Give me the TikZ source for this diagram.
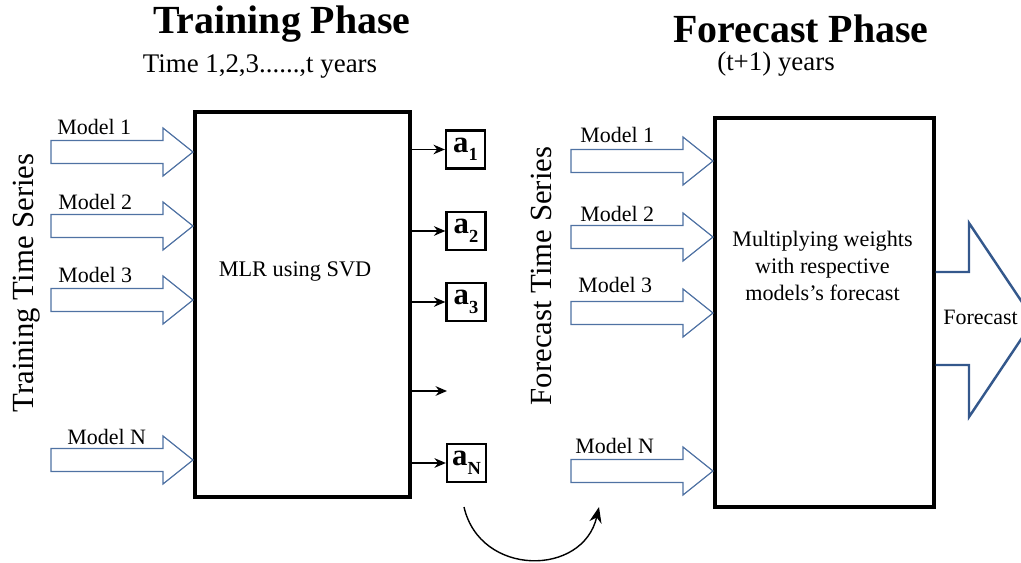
\documentclass[tikz,border=0pt]{standalone}
\usepackage{fontspec}
\setmainfont{Liberation Serif}
\usetikzlibrary{arrows.meta}

\definecolor{seriesblue}{RGB}{79,114,163}
\definecolor{outblue}{RGB}{52,88,140}

\newcommand{\fsz}[1]{\fontsize{#1}{#1}\selectfont}
% weight label a_i inside its small box
\newcommand{\wlabel}[1]{\textbf{a}\raisebox{-0.6ex}{\fsz{10.5}\textbf{#1}}}

\tikzset{
  bigbox/.style={draw, line width=1.8pt, inner sep=0pt},
  wbox/.style={draw, line width=1.3pt, minimum width=0.78cm, minimum height=0.76cm, inner sep=0pt, font=\fsz{17.5}},
  wire/.style={line width=0.9pt, -{Stealth[length=6.5pt, width=5.5pt]}},
  fatarrow/.style={draw=seriesblue, line width=0.7pt, line join=miter},
  modellabel/.style={anchor=base west, inner sep=0pt, font=\fsz{12.5}},
  sidetitle/.style={rotate=90, anchor=base, inner sep=0pt, font=\fsz{17.5}}
}

% block arrow: #1 = tail x, #2 = tip x, #3 = centre y
\newcommand{\blockarrow}[3]{%
  \draw[fatarrow] (#1,#3-11.5) -- (#2-30,#3-11.5) -- (#2-30,#3-24) -- (#2,#3)
    -- (#2-30,#3+24) -- (#2-30,#3+11.5) -- (#1,#3+11.5) -- cycle;}

\begin{document}
\begin{tikzpicture}[x=0.02cm, y=-0.02cm]
\useasboundingbox (0,0) rectangle (1021,563);

% headings
\node[anchor=base, inner sep=0pt, font=\bfseries\fsz{22.7}] (trainhead) at (282,34) {Training Phase};
\node[anchor=base, inner sep=0pt, font=\fsz{15.3}] (trainyears) at (260,73) {Time 1,2,3......,t years};
\node[anchor=base, inner sep=0pt, font=\bfseries\fsz{22.7}] (fchead) at (801,43) {Forecast Phase};
\node[anchor=base, inner sep=0pt, font=\fsz{15.3}] (fcyears) at (776,71) {(t+1) years};

% the two phase boxes
\node[bigbox, minimum width=4.3cm, minimum height=7.7cm] (mlr) at (302.5,304.5) {};
\node[anchor=base, inner sep=0pt, font=\fsz{12.7}] (mlrtext) at (295,277) {MLR using SVD};
\node[bigbox, minimum width=4.38cm, minimum height=7.78cm] (fcbox) at (824.5,312.5) {};
\node[align=center, inner sep=0pt, font=\fontsize{12.6}{15.3}\selectfont] (fctext) at (822.5,266)
  {Multiplying weights\\with respective\\models's forecast};

% training inputs
\node[sidetitle] (traints) at (33,283) {Training Time Series};
\foreach \yy/\xx/\ly/\lbl in {152/57/135/1, 226/58/210/2, 300/58/283/3, 460/67/445/N} {
  \blockarrow{51}{193}{\yy}
  \node[modellabel] (trainlbl\lbl) at (\xx,\ly) {Model \lbl};
}

% weights
\node[wbox] (a1) at (465.5,149.5) {\wlabel{1}};
\node[wbox] (a2) at (466,231) {\wlabel{2}};
\node[wbox] (a3) at (466,302) {\wlabel{3}};
\node[wbox] (aN) at (466.5,463) {\wlabel{N}};
\coordinate (adots) at (447,391);
\foreach \w in {a1,a2,a3,aN,adots}
  \draw[wire] (mlr.east |- \w) -- (\w);

% weights carried over to the forecast phase
\coordinate (carryfrom) at (464,507);
\coordinate (carryto) at (599,507);
\draw[line width=0.8pt, -{Stealth[length=9pt, width=7pt]}] (carryfrom) .. controls (480,577) and (583,577) .. (carryto);

% forecast inputs
\node[sidetitle] (fcts) at (551,276) {Forecast Time Series};
\foreach \yy/\xx/\ly/\lbl in {161/580/143/1, 237/580/222/2, 313/578/293/3, 471/575/454/N} {
  \blockarrow{571}{713}{\yy}
  \node[modellabel] (fclbl\lbl) at (\xx,\ly) {Model \lbl};
}

% output arrow
\draw[draw=outblue, line width=1.4pt, line join=miter] (fcbox.east |- 0,272) -- (969,272) -- (969,223)
  -- (1034,320) -- (969,417) -- (969,365) -- (fcbox.east |- 0,365);
\node[anchor=base west, inner sep=0pt, font=\fsz{12.5}] (output) at (943,325) {Forecast};
\end{tikzpicture}
\end{document}
